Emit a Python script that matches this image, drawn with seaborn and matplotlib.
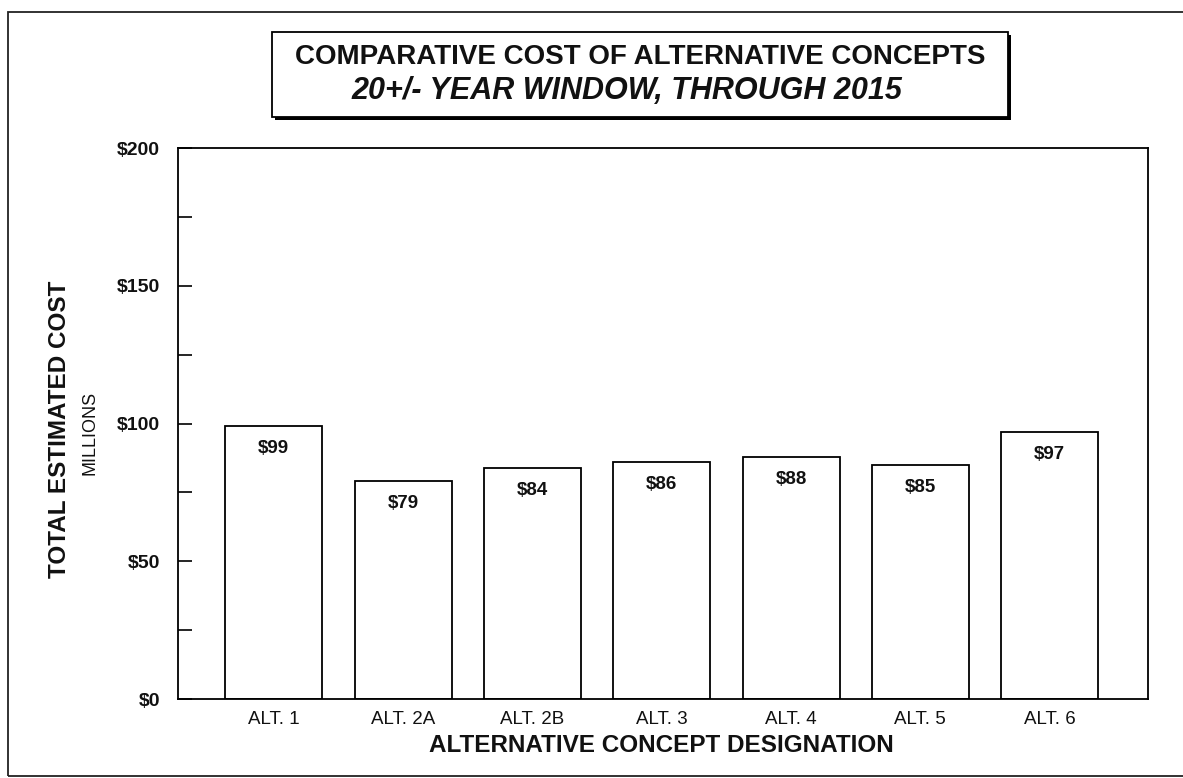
import matplotlib
matplotlib.use("Agg")
import matplotlib.pyplot as plt
from matplotlib.patches import Rectangle
from matplotlib.ticker import MultipleLocator, FuncFormatter
import pandas as pd
import seaborn as sns

# Cost per alternative concept, in millions of dollars
concepts = ["ALT. 1", "ALT. 2A", "ALT. 2B", "ALT. 3", "ALT. 4", "ALT. 5", "ALT. 6"]
costs = [99, 79, 84, 86, 88, 85, 97]
y_ticks = [0, 50, 100, 150, 200]

df = pd.DataFrame({"concept": concepts, "cost": costs})

sns.set_theme(style="white")
plt.rcParams["font.family"] = ["Liberation Sans", "DejaVu Sans"]

W, H = 1183, 778
fig = plt.figure(figsize=(W / 100, H / 100), dpi=100)
fig.patch.set_facecolor("white")


def fx(px):
    return px / W


def fy(py):
    return 1 - py / H


# Plot region
left, right, top, bottom = 178, 1148, 148, 699
ax = fig.add_axes([fx(left), fy(bottom), fx(right - left), (bottom - top) / H])

sns.barplot(data=df, x="concept", y="cost", ax=ax, color="white",
            edgecolor="black", linewidth=1.3, width=0.75, saturation=1)

ax.set_xlim(-0.74, 6.76)
ax.set_ylim(0, 200)
ax.set_xlabel("")
ax.set_ylabel("")

for s in ax.spines.values():
    s.set_visible(True)
    s.set_color("black")
    s.set_linewidth(1.3)

ax.yaxis.set_major_locator(MultipleLocator(50))
ax.yaxis.set_minor_locator(MultipleLocator(25))
ax.set_yticks(y_ticks)
ax.yaxis.set_major_formatter(FuncFormatter(lambda v, p: f"${v:.0f}"))
ax.tick_params(axis="y", which="both", direction="in", length=10, width=1.2,
               color="black", left=True, pad=13, labelsize=14,
               labelcolor="#111111")
for lbl in ax.get_yticklabels():
    lbl.set_fontweight("bold")
ax.tick_params(axis="x", length=0, pad=9, labelsize=13.5, labelcolor="#111111")

# Value labels inside the top of each bar
for i, v in enumerate(costs):
    ax.text(i, v - 8.2, f"${v}", ha="center", va="center",
            fontsize=13.5, fontweight="bold", color="#111111")

# Axis titles
fig.text(fx(661), fy(745), "ALTERNATIVE CONCEPT DESIGNATION", ha="center",
         va="center", fontsize=17.5, fontweight="bold", color="#111111")
fig.text(fx(60), fy(429), "TOTAL ESTIMATED COST", rotation=90, ha="center",
         va="center", fontsize=17.5, fontweight="bold", color="#111111")
fig.text(fx(90), fy(433), "MILLIONS", rotation=90, ha="center",
         va="center", fontsize=13, color="#111111")

# Framed title with drop shadow
bx0, by0, bx1, by1 = 272, 32, 1008, 117
fig.patches.append(Rectangle((fx(bx0 + 3), fy(by1 + 3)), fx(bx1 - bx0), (by1 - by0) / H,
                             transform=fig.transFigure, facecolor="black",
                             edgecolor="black", linewidth=0, zorder=1))
fig.patches.append(Rectangle((fx(bx0), fy(by1)), fx(bx1 - bx0), (by1 - by0) / H,
                             transform=fig.transFigure, facecolor="white",
                             edgecolor="black", linewidth=1.3, zorder=2))
fig.text(fx(640), fy(57), "COMPARATIVE COST OF ALTERNATIVE CONCEPTS", ha="center",
         va="center", fontsize=20, fontweight="bold", color="#111111", zorder=3)
fig.text(fx(627), fy(91), "20+/- YEAR WINDOW, THROUGH 2015", ha="center",
         va="center", fontsize=22, fontweight="bold", style="italic",
         color="#111111", zorder=3)

# Page border
fig.patches.append(Rectangle((fx(8), fy(776)), fx(1200), (776 - 12) / H,
                             transform=fig.transFigure, facecolor="none",
                             edgecolor="#222222", linewidth=1.3, zorder=0))

fig.savefig("out.png", dpi=100, facecolor="white")
